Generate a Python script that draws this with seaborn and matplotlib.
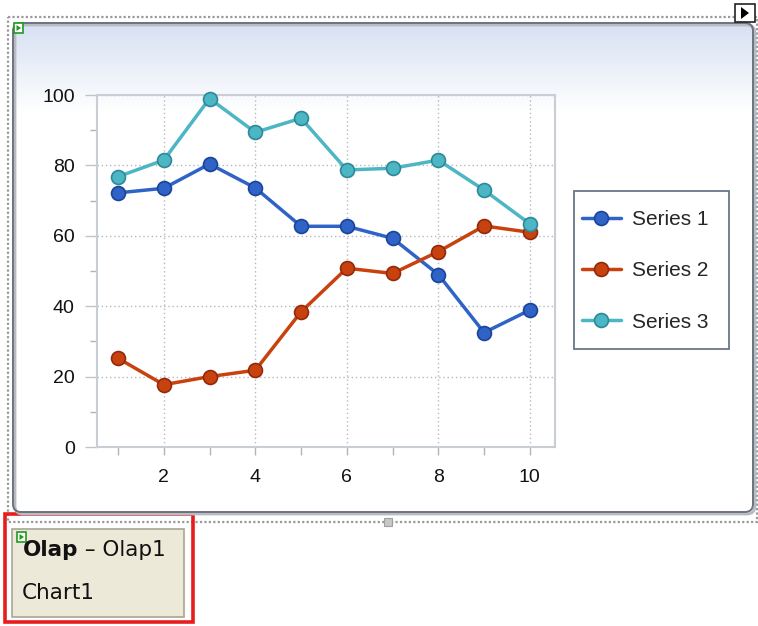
import numpy as np
import pandas as pd
import matplotlib
matplotlib.use("Agg")
import matplotlib.pyplot as plt
from matplotlib.patches import Rectangle, FancyBboxPatch, Polygon
import seaborn as sns

# values
x_vals = list(range(1, 11))
series_names = ["Series 1", "Series 2", "Series 3"]
series_1 = [72.2, 73.5, 80.4, 73.6, 62.7, 62.7, 59.3, 49.0, 32.5, 38.9]
series_2 = [25.2, 17.7, 20.0, 21.8, 38.4, 50.8, 49.3, 55.5, 62.8, 61.0]
series_3 = [76.8, 81.5, 99.0, 89.4, 93.4, 78.7, 79.2, 81.5, 73.0, 63.4]
y_ticks = [0, 20, 40, 60, 80, 100]
x_ticks = [2, 4, 6, 8, 10]

line_colors = {"Series 1": "#2f63c6", "Series 2": "#c8420f", "Series 3": "#4db6c4"}
edge_colors = {"Series 1": "#1b449a", "Series 2": "#93290a", "Series 3": "#2c8997"}

df = pd.DataFrame({
    "x": x_vals * 3,
    "value": series_1 + series_2 + series_3,
    "series": [n for n in series_names for _ in x_vals],
})

sns.set_style("white")
plt.rcParams["font.family"] = ["Liberation Sans", "DejaVu Sans"]

W, H = 758, 626
fig = plt.figure(figsize=(W / 100, H / 100), dpi=100)
fig.patch.set_facecolor("white")

# background layer in pixel coordinates for the frame decorations
bg = fig.add_axes([0, 0, 1, 1])
bg.set_xlim(0, W)
bg.set_ylim(H, 0)
bg.axis("off")

# outer dotted selection frame
bg.add_patch(Rectangle((8, 17), 749, 505, fill=False, ec="#9a9a9a",
                       lw=1.6, ls=(0, (1, 1))))
bg.add_patch(Rectangle((384, 518), 8, 8, fc="#c8c8c8", ec="#a0a0a0", lw=0.8))

# rounded chart panel with blue-to-white gradient on top
panel = FancyBboxPatch((13, 23), 740, 489, boxstyle="round,pad=0,rounding_size=8",
                       fc="white", ec="none")
bg.add_patch(panel)
grad = np.linspace(0, 1, 256).reshape(-1, 1)
top = np.array([0.84, 0.88, 0.95])
g = top[None, None, :] * (1 - grad[:, :, None]) + np.ones(3)[None, None, :] * grad[:, :, None]
im = bg.imshow(g, extent=(13, 753, 112, 23), aspect="auto", zorder=1)
im.set_clip_path(panel)
bg.add_patch(FancyBboxPatch((15, 25), 740, 489, boxstyle="round,pad=0,rounding_size=8",
                            fc="none", ec="#b8bcc2", lw=2.0, zorder=2))
bg.add_patch(FancyBboxPatch((13, 23), 740, 489, boxstyle="round,pad=0,rounding_size=8",
                            fc="none", ec="#6b737e", lw=1.4, zorder=3))

# small green corner icon and the black arrow button
bg.add_patch(Rectangle((14, 23), 9, 10, fc="white", ec="#1f9a1f", lw=1.2, zorder=4))
bg.add_patch(Polygon([(16.5, 25), (16.5, 31), (21, 28)], fc="#1f9a1f", ec="none", zorder=5))
bg.add_patch(Rectangle((735, 4), 20, 18, fc="white", ec="#222222", lw=1.2, zorder=4))
bg.add_patch(Polygon([(741, 7), (741, 19), (749, 13)], fc="black", ec="none", zorder=5))

# legend box (entries are placed by the legend below)
bg.add_patch(Rectangle((574, 191), 155, 158, fc="white", ec="#6a7688", lw=1.3, zorder=4))

# Olap label box below the chart
bg.add_patch(Rectangle((5, 514), 188, 108, fill=False, ec="#e81c1c", lw=2.6))
bg.add_patch(Rectangle((12, 529), 172, 88, fc="#ece9d8", ec="#a8a595", lw=1.2))
bg.add_patch(Rectangle((17, 532), 9, 10, fc="white", ec="#1f9a1f", lw=1.2, zorder=4))
bg.add_patch(Polygon([(19.5, 534), (19.5, 540), (24, 537)], fc="#1f9a1f", ec="none", zorder=5))
box_font = ["DejaVu Sans"]
t1 = bg.text(23, 550, "Olap", fontsize=15.5, fontweight="bold", color="#111111",
             family=box_font, va="center", ha="left", zorder=6)
bg.annotate(" – Olap1", xy=(1, 0.5), xycoords=t1, fontsize=15.5, color="#111111",
            family=box_font, va="center", ha="left", zorder=6)
bg.text(22, 593, "Chart1", fontsize=15.5, color="#111111", family=box_font,
        va="center", ha="left")

# the line chart itself
ax = fig.add_axes([97 / W, 1 - 447 / H, (555 - 97) / W, (447 - 95) / H])
ax.set_facecolor("none")
sns.lineplot(data=df, x="x", y="value", hue="series", hue_order=series_names,
             palette=line_colors, marker="o", markersize=10, linewidth=2.5,
             legend=False, ax=ax, zorder=5)
for line, name in zip(ax.lines, series_names):
    line.set_markeredgecolor(edge_colors[name])
    line.set_markeredgewidth(1.2)
    line.set_clip_on(False)

ax.set_xlim(0.54, 10.55)
ax.set_ylim(0, 100)
ax.set_xticks(x_ticks)
ax.set_xticks(x_vals, minor=True)
ax.set_yticks(y_ticks)
ax.set_yticks([10, 30, 50, 70, 90], minor=True)
ax.set_xlabel("")
ax.set_ylabel("")

ax.grid(True, which="major", color="#b4b8bf", lw=1.0, ls=(0, (1, 2)))
for sp in ax.spines.values():
    sp.set_color("#c9cdd4")
    sp.set_linewidth(1.5)

ax.tick_params(axis="y", which="major", length=9, width=1, color="#c0c4ca",
               pad=7, labelsize=14, labelcolor="#111111", left=True)
ax.tick_params(axis="y", which="minor", length=5, width=1, color="#b0b4ba", left=True)
ax.tick_params(axis="x", which="both", length=6, width=1, color="#b0b4ba",
               pad=10, labelsize=14, labelcolor="#111111", bottom=True)

leg = ax.legend(ax.lines, series_names, loc="upper left",
                bbox_to_anchor=(582 / W, 1 - 210 / H), bbox_transform=fig.transFigure,
                fontsize=15, frameon=False, borderpad=0, labelspacing=1.55,
                handlelength=1.85, handletextpad=0.55, borderaxespad=0)
leg.set_zorder(10)

fig.savefig("out.png", dpi=100)
